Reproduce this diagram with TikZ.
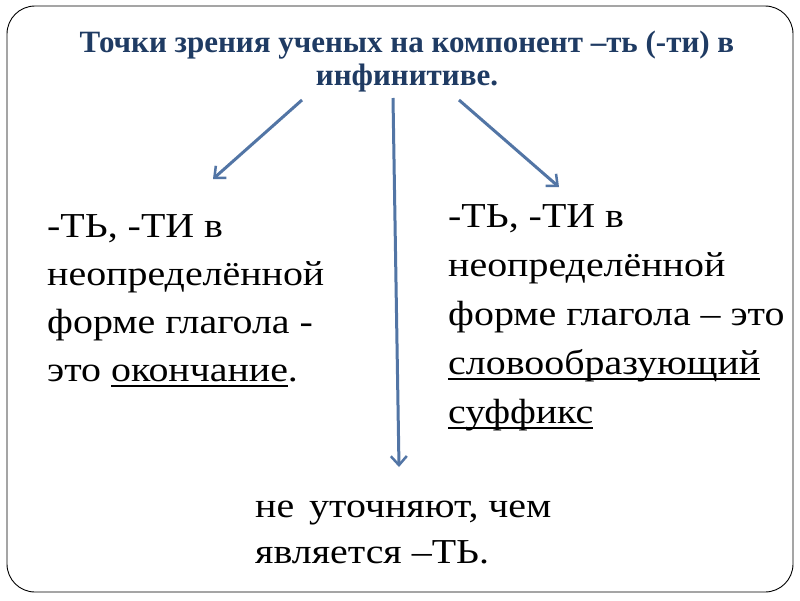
\documentclass[tikz,border=0pt]{standalone}
\usepackage{fontspec}
\setmainfont{Liberation Serif}
\newfontfamily\bodyfont[FakeStretch=1.14]{Liberation Serif}
\newfontfamily\titlefont[FakeStretch=1.0]{Liberation Serif Bold}
\usetikzlibrary{arrows.meta}
\definecolor{titleblue}{HTML}{1F3B63}
\definecolor{arrowblue}{HTML}{5275A5}
\newlength\ulw
\newcommand\myul[1]{\settowidth\ulw{#1}\rlap{\rule[-5.5pt]{\ulw}{1.8pt}}#1}
\tikzset{
  titleline/.style={anchor=base, inner sep=0pt, text=titleblue, font=\titlefont\fontsize{31}{33}\selectfont},
  bodyline/.style={anchor=base west, inner sep=0pt, font=\bodyfont\fontsize{35}{48}\selectfont},
  arr/.style={draw=arrowblue, line width=3pt, -{Straight Barb[length=9pt,width=16pt,line width=2.5pt]}},
  frame/.style={draw=black, line width=0.9pt, rounded corners=28pt}
}
\begin{document}
\begin{tikzpicture}[x=1pt,y=-1pt]
\useasboundingbox (0,0) rectangle (800,600);
\fill[white] (0,0) rectangle (800,600);
\draw[frame] (7,6) rectangle (793,592);
\node[titleline] (t1) at (407,52) {Точки зрения ученых на компонент –ть (-ти) в};
\node[titleline] (t2) at (407,85) {инфинитиве.};
% left block
\node[bodyline] (l1) at (47,237) {-ТЬ, -ТИ в};
\node[bodyline] (l2) at (47,285) {неопределённой};
\node[bodyline] (l3) at (47,333) {форме глагола -};
\node[bodyline] (l4) at (47,381) {это \myul{окончание}.};
% right block
\node[bodyline] (r1) at (448,227) {-ТЬ, -ТИ в};
\node[bodyline] (r2) at (448,276) {неопределённой};
\node[bodyline] (r3) at (448,325) {форме глагола – это};
\node[bodyline] (r4) at (448,374) {\myul{словообразующий}};
\node[bodyline] (r5) at (448,423) {\myul{суффикс}};
% bottom block
\node[bodyline] (b1) at (255,517) {не\hspace{5pt} уточняют, чем};
\node[bodyline] (b2) at (255,563) {является –ТЬ.};
% arrows
\coordinate (aLs) at (302,100);
\coordinate (aLe) at (213,179);
\coordinate (aMs) at (393,98);
\coordinate (aMe) at (399,467);
\coordinate (aRs) at (459,100);
\coordinate (aRe) at (559,187);
\draw[arr] (aLs) -- (aLe);
\draw[arr] (aMs) -- (aMe);
\draw[arr] (aRs) -- (aRe);
\end{tikzpicture}
\end{document}
